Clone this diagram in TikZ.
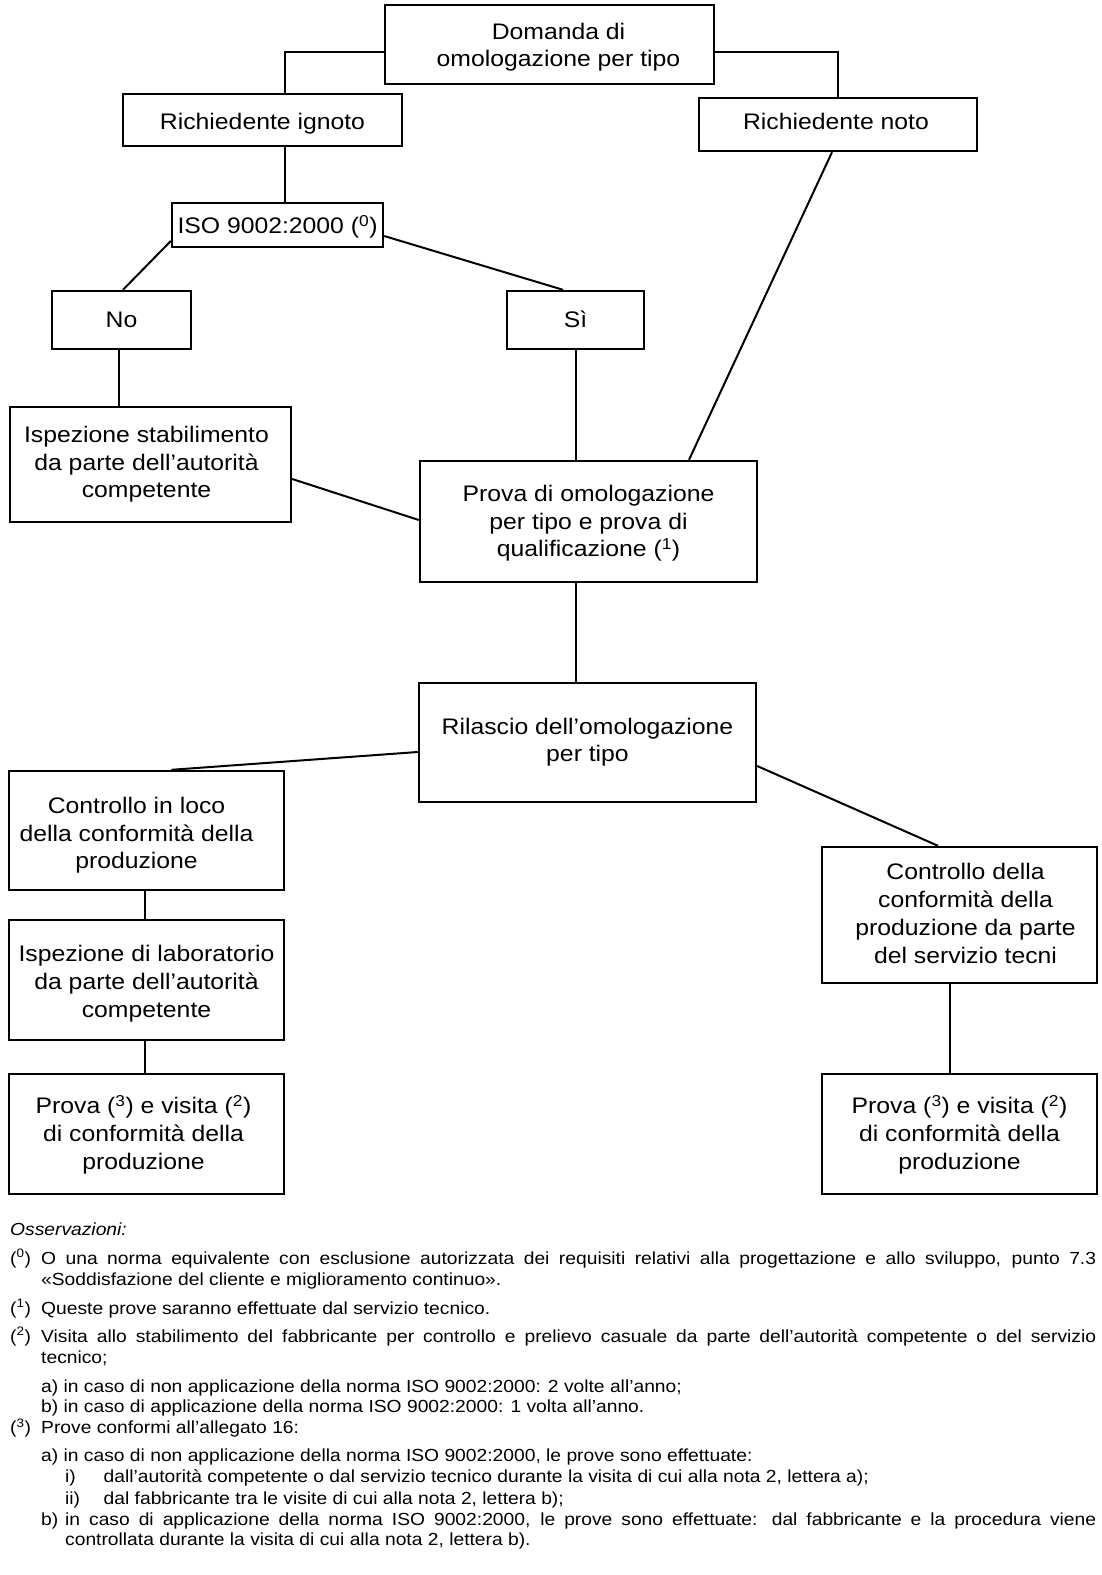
\documentclass[tikz,border=0pt]{standalone}
\usepackage{fontspec}
\setmainfont[FakeStretch=1.1]{Liberation Sans}
\usetikzlibrary{calc}
\newcommand\bfnt{\fontsize{22.5}{27.8}\selectfont}
\newcommand\nfnt{\fontsize{17.5}{21}\selectfont}
\newcommand\sps[1]{\textsuperscript{#1}}
\newcommand\btx[3][0pt]{\hspace*{#1}\raisebox{#2}[\height][\depth]{\begin{tabular}{@{}c@{}}#3\end{tabular}}\hspace*{-#1}}
\tikzset{
  box/.style={draw, line width=2.4pt, inner sep=0pt, align=center, font=\bfnt},
  conn/.style={line width=2pt},
  note/.style={anchor=base west, inner sep=0pt, font=\nfnt},
}
\begin{document}
\begin{tikzpicture}[x=1pt,y=-1pt]
\useasboundingbox (0,0) rectangle (1102,1575);
\fill[white] (0,0) rectangle (1102,1575);

% boxes
\node[box, minimum width=329pt, minimum height=79pt] (dom) at (549.5,44.5) {\btx[9pt]{-3pt}{Domanda di\\omologazione per tipo}};
\node[box, minimum width=279pt, minimum height=52pt] (rig) at (262.5,120) {\btx{-4pt}{Richiedente ignoto}};
\node[box, minimum width=278pt, minimum height=53pt] (rno) at (838,124.5) {\btx[-2pt]{1pt}{Richiedente noto}};
\node[box, minimum width=211pt, minimum height=44pt] (iso) at (277.5,225) {\btx{-3pt}{ISO 9002:2000 (\sps{0})}};
\node[box, minimum width=139pt, minimum height=58pt] (no) at (121.5,320) {\btx{-2pt}{No}};
\node[box, minimum width=137pt, minimum height=58pt] (si) at (575.5,320) {\btx{-2pt}{Sì}};
\node[box, minimum width=281pt, minimum height=115pt] (isp) at (150.5,464.5) {\btx[-4pt]{0pt}{Ispezione stabilimento\\da parte dell’autorità\\competente}};
\node[box, minimum width=337pt, minimum height=121pt] (prova) at (588.5,521.5) {\btx{-2pt}{Prova di omologazione\\per tipo e prova di\\qualificazione (\sps{1})}};
\node[box, minimum width=337pt, minimum height=119pt] (ril) at (587.5,742.5) {\btx{0pt}{Rilascio dell’omologazione\\per tipo}};
\node[box, minimum width=275pt, minimum height=119pt] (cil) at (146.5,830.5) {\btx[-10pt]{-5pt}{Controllo in loco\\della conformità della\\produzione}};
\node[box, minimum width=275pt, minimum height=136pt] (cdr) at (959.5,915) {\btx[6pt]{-1pt}{Controllo della\\conformità della\\produzione da parte\\del servizio tecni}};
\node[box, minimum width=275pt, minimum height=120pt] (ilab) at (146.5,980) {\btx{-4pt}{Ispezione di laboratorio\\da parte dell’autorità\\competente}};
\node[box, minimum width=275pt, minimum height=120pt] (pl) at (146.5,1134) {\btx[-3pt]{-2pt}{Prova (\sps{3}) e visita (\sps{2})\\di conformità della\\produzione}};
\node[box, minimum width=275pt, minimum height=120pt] (pr) at (959.5,1134) {\btx{-2pt}{Prova (\sps{3}) e visita (\sps{2})\\di conformità della\\produzione}};

% connectors
\draw[conn] ([yshift=-7.5pt]dom.west) -| ([xshift=22.5pt]rig.north);
\draw[conn] ([yshift=-7.5pt]dom.east) -| (rno.north);
\draw[conn] ([xshift=22.5pt]rig.south) -- ([xshift=22.5pt]rig.south |- iso.north);
\draw[conn] ([yshift=-16pt]iso.west) -- ([xshift=1.5pt]no.north);
\draw[conn] ([yshift=-11pt]iso.east) -- ([xshift=-12.5pt]si.north);
\draw[conn] ([xshift=-3pt]no.south) -- ([xshift=-3pt]no.south |- isp.north);
\draw[conn] (si.south) -- (si.south |- prova.north);
\draw[conn] ([xshift=-6pt]rno.south) -- ([xshift=100.5pt]prova.north);
\draw[conn] ([yshift=-14.5pt]isp.east) -- ([yshift=1.5pt]prova.west);
\draw[conn] ([xshift=-13pt]prova.south) -- ([xshift=-13pt]prova.south |- ril.north);
\draw[conn] ([yshift=-9.5pt]ril.west) -- ([xshift=25pt]cil.north);
\draw[conn] ([yshift=-23.5pt]ril.east) -- ([xshift=-21.5pt]cdr.north);
\draw[conn] ([xshift=-2pt]cil.south) -- ([xshift=-2pt]cil.south |- ilab.north);
\draw[conn] ([xshift=-2pt]ilab.south) -- ([xshift=-2pt]ilab.south |- pl.north);
\draw[conn] ([xshift=-9.5pt]cdr.south) -- ([xshift=-9.5pt]cdr.south |- pr.north);

% notes
\node[note] (oss) at (10,1235) {\itshape Osservazioni:};
\node[note] (n0) at (10,1264) {(\sps{0})};
\node[note] (n0a) at (41,1264) {\makebox[1055pt][s]{O una norma equivalente con esclusione autorizzata dei requisiti relativi alla progettazione e allo sviluppo, punto 7.3}};
\node[note] (n0b) at (41,1285) {«Soddisfazione del cliente e miglioramento continuo».};
\node[note] (n1) at (10,1314) {(\sps{1})};
\node[note] (n1a) at (41,1314) {Queste prove saranno effettuate dal servizio tecnico.};
\node[note] (n2) at (10,1342) {(\sps{2})};
\node[note] (n2a) at (41,1342) {\makebox[1055pt][s]{Visita allo stabilimento del fabbricante per controllo e prelievo casuale da parte dell’autorità competente o del servizio}};
\node[note] (n2b) at (41,1363) {tecnico;};
\node[note] (n2c) at (41,1392) {a) in caso di non applicazione della norma ISO 9002:2000: 2 volte all’anno;};
\node[note] (n2d) at (41,1412) {b) in caso di applicazione della norma ISO 9002:2000: 1 volta all’anno.};
\node[note] (n3) at (10,1433.5) {(\sps{3})};
\node[note] (n3a) at (41,1433.5) {Prove conformi all’allegato 16:};
\node[note] (n3b) at (41,1461.6) {a) in caso di non applicazione della norma ISO 9002:2000, le prove sono effettuate:};
\node[note] (n3ci) at (65,1482.7) {i)};
\node[note] (n3c) at (103.5,1482.7) {dall’autorità competente o dal servizio tecnico durante la visita di cui alla nota 2, lettera a);};
\node[note] (n3di) at (65,1504) {ii)};
\node[note] (n3d) at (103.5,1504) {dal fabbricante tra le visite di cui alla nota 2, lettera b);};
\node[note] (n3ei) at (41,1525) {b)};
\node[note] (n3e) at (65,1525) {\makebox[1031pt][s]{in caso di applicazione della norma ISO 9002:2000, le prove sono effettuate: dal fabbricante e la procedura viene}};
\node[note] (n3f) at (65,1545) {controllata durante la visita di cui alla nota 2, lettera b).};
\end{tikzpicture}
\end{document}
